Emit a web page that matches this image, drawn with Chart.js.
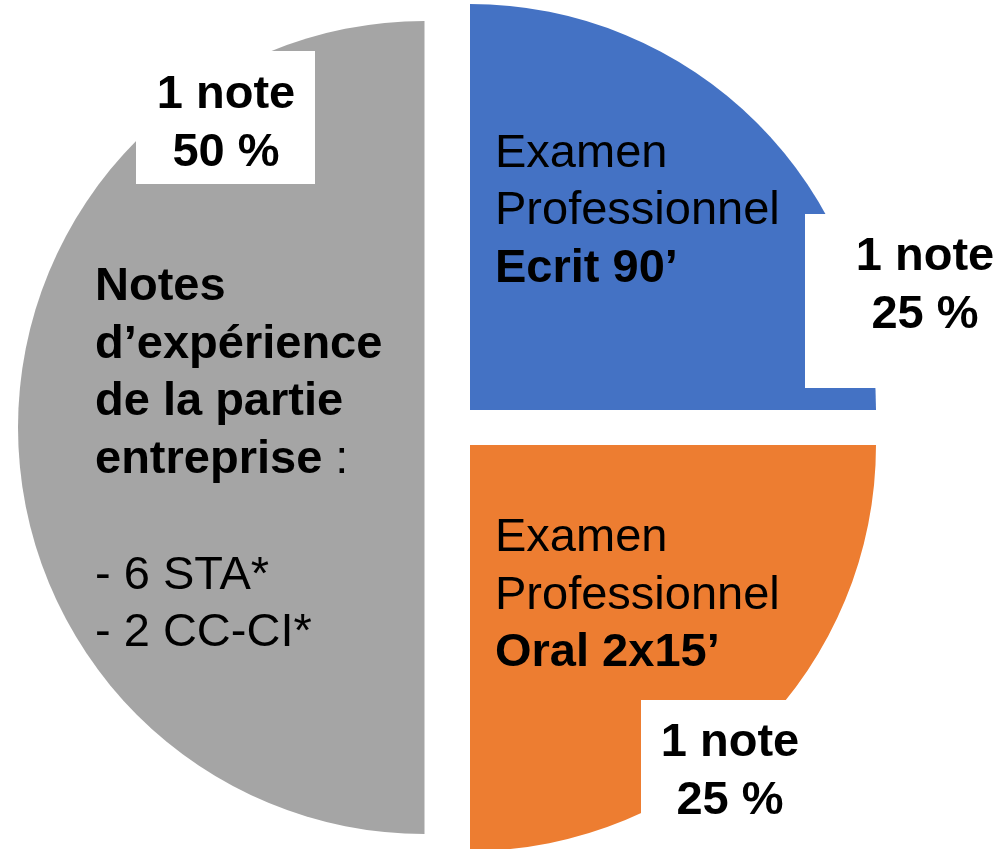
<!DOCTYPE html>
<html>
<head>
<meta charset="utf-8">
<script src="https://cdn.jsdelivr.net/npm/chart.js@4"></script>
<style>
  html, body { margin: 0; padding: 0; background: #fff; }
  #wrap { position: relative; width: 1000px; height: 849px; }
  #wrap canvas { position: absolute; left: 0; top: 0; }
</style>
</head>
<body>
<div id="wrap">
  <canvas id="pieBack" width="1000" height="849"></canvas>
  <canvas id="pieFront" width="1000" height="849"></canvas>
</div>
<script>
// données
const parts = ['Examen Professionnel Ecrit', 'Examen Professionnel Oral', 'Notes d’expérience'];
const shares = [25, 25, 50];
const colors = ['#4472C4', '#ED7D31', '#A5A5A5'];

// texte dans chaque part : lignes de segments [texte, gras]
const sliceTexts = [
    [[['Examen', false]], [['Professionnel', false]], [['Ecrit 90’', true]]],
    [[['Examen', false]], [['Professionnel', false]], [['Oral 2x15’', true]]],
    [[['Notes', true]], [['d’expérience', true]], [['de la partie', true]],
     [['entreprise', true], [' :', false]], [], [['- 6 STA*', false]], [['- 2 CC-CI*', false]]]
];
const noteTexts = [['1 note', '25 %'], ['1 note', '25 %'], ['1 note', '50 %']];

// placement relatif au centre du camembert (px)
const textPos = [{dx: 42.5, dy: -261}, {dx: 42.5, dy: 123.5}, {dx: -357.5, dy: -127.5}];
const notePos = [
    {x0: 352.5, y0: -213.5, x1: 560, y1: -39.5, cx: 472.5, dy: -157.5},
    {x0: 188.5, y0: 272.5, x1: 380, y1: 430, cx: 277.5, dy: 328.5},
    {x0: -316.5, y0: -376.5, x1: -137.5, y1: -243.5, cx: -226.5, dy: -319.5}
];

const FONT = '"Liberation Sans", Arial, sans-serif';
const SIZE = 47;
const LINE = 57.7;

const labelPlugin = {
    id: 'labels',
    afterDraw(chart) {
        const ctx = chart.ctx;
        const arc = chart.getDatasetMeta(0).data[0];
        const cx = arc.x, cy = arc.y;
        ctx.save();
        ctx.textBaseline = 'alphabetic';
        ctx.fillStyle = '#000';

        sliceTexts.forEach((lines, i) => {
            const p = textPos[i];
            lines.forEach((segs, k) => {
                let x = cx + p.dx;
                const y = cy + p.dy + k * LINE;
                segs.forEach(([t, bold]) => {
                    ctx.font = (bold ? 'bold ' : '') + SIZE + 'px ' + FONT;
                    ctx.textAlign = 'left';
                    ctx.fillText(t, x, y);
                    x += ctx.measureText(t).width;
                });
            });
        });

        noteTexts.forEach((lines, i) => {
            const b = notePos[i];
            ctx.fillStyle = '#fff';
            ctx.fillRect(cx + b.x0, cy + b.y0, b.x1 - b.x0, b.y1 - b.y0);
            ctx.fillStyle = '#000';
            ctx.font = 'bold ' + SIZE + 'px ' + FONT;
            ctx.textAlign = 'center';
            lines.forEach((t, k) => {
                ctx.fillText(t, cx + b.cx, cy + b.dy + k * LINE);
            });
        });
        ctx.restore();
    }
};

// le demi-disque gris n'est pas décalé, les deux quarts sont détachés
// (deux calques : Chart.js agrandit un arc de 180° quand on le décale)
function makePie(id, shown, offsets, radius, padRight, extra) {
    return new Chart(document.getElementById(id), {
        type: 'pie',
        data: {
            labels: parts,
            datasets: [{
                data: shares,
                backgroundColor: colors.map((c, i) => shown[i] ? c : 'rgba(0,0,0,0)'),
                borderWidth: 0,
                offset: offsets
            }]
        },
        options: {
            responsive: false,
            animation: false,
            radius: radius,
            layout: { padding: { left: 0, right: padRight, top: 6, bottom: 0 } },
            plugins: {
                legend: { display: false },
                tooltip: { enabled: false }
            },
            events: []
        },
        plugins: extra
    });
}

makePie('pieBack', [false, false, true], [0, 0, 0], 406.5, 151, []);
makePie('pieFront', [true, true, false], [99, 99, 0], 406, 95, [labelPlugin]);
</script>
</body>
</html>
